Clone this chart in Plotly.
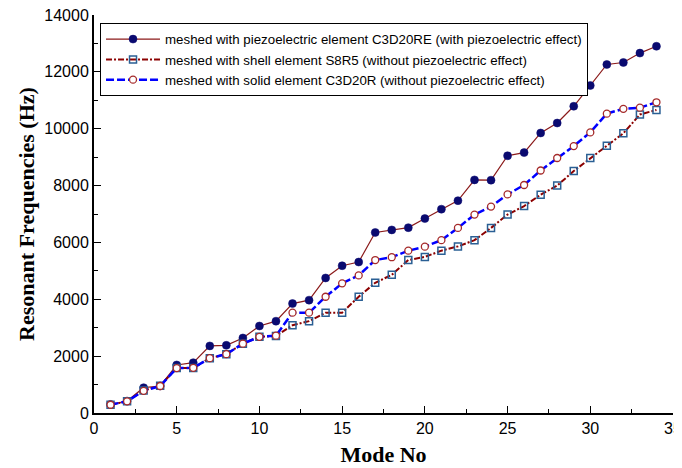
import plotly.graph_objects as go

modes = list(range(1, 35))

piezo_c3d20re = [300, 420, 890, 950, 1690, 1770, 2360, 2380, 2640, 3060, 3230, 3850,
                 3970, 4750, 5180, 5310, 6350, 6440, 6520, 6840, 7170, 7470, 8200, 8190,
                 9050, 9160, 9850, 10200, 10790, 11520, 12260, 12330, 12660, 12900]

shell_s8r5 = [290, 410, 790, 960, 1580, 1580, 1930, 2070, 2440, 2680, 2710, 3090,
              3230, 3530, 3530, 4090, 4580, 4860, 5380, 5490, 5710, 5860, 6080, 6510,
              6980, 7280, 7680, 8000, 8510, 8970, 9400, 9840, 10500, 10660]

solid_c3d20r = [290, 410, 780, 950, 1580, 1590, 1930, 2070, 2440, 2680, 2720, 3530,
                3530, 4090, 4560, 4840, 5380, 5480, 5710, 5850, 6080, 6510, 6980, 7260,
                7690, 8020, 8530, 8970, 9390, 9870, 10530, 10700, 10740, 10930]

x_ticks = [0, 5, 10, 15, 20, 25, 30, 35]

names = ["meshed with piezoelectric element C3D20RE (with piezoelectric effect)",
         "meshed with shell element S8R5 (without piezoelectric effect)",
         "meshed with solid element C3D20R (without piezoelectric effect)"]

fig = go.Figure()
fig.add_trace(go.Scatter(
    x=modes, y=piezo_c3d20re, name=names[0], mode="lines+markers",
    line=dict(color="#8B1A1A", width=1.2),
    marker=dict(symbol="circle", size=8, color="#0A0A70", line=dict(color="#0A0A70", width=0.5)),
    cliponaxis=False))
fig.add_trace(go.Scatter(
    x=modes, y=shell_s8r5, name=names[1], mode="lines+markers",
    line=dict(color="#8B0000", width=2, dash="6px,2px,2px,2px"),
    marker=dict(symbol="square-open", size=7, color="#2A5F94", line=dict(width=1.5)),
    cliponaxis=False))
fig.add_trace(go.Scatter(
    x=modes, y=solid_c3d20r, name=names[2], mode="lines+markers",
    line=dict(color="#0000FF", width=2.5, dash="8px,3px"),
    marker=dict(symbol="circle", size=7, color="white", line=dict(color="#A52A2A", width=1.3)),
    cliponaxis=False))

fig.update_layout(
    width=674, height=460,
    margin=dict(l=86, r=9, t=7, b=55),
    paper_bgcolor="white", plot_bgcolor="white",
    font=dict(family="Liberation Sans, Arial", size=16, color="black"),
    legend=dict(x=0.0104, y=0.98, xanchor="left", yanchor="top",
                bgcolor="white", bordercolor="black", borderwidth=1,
                font=dict(family="Liberation Sans, Arial", size=13.3, color="black"),
                tracegroupgap=0, itemwidth=54),
    xaxis=dict(range=[0, 35], tickmode="array", tickvals=x_ticks,
               ticktext=[str(v) for v in x_ticks],
               ticks="inside", ticklen=7, tickwidth=1.2, tickcolor="black",
               minor=dict(dtick=2.5, tick0=0, ticks="inside", ticklen=4, tickcolor="black"),
               showline=True, linecolor="black", linewidth=2, showgrid=False, zeroline=False,
               automargin=False, ticklabeloverflow="allow",
               title=dict(text="<b>Mode No</b>", font=dict(family="Liberation Serif, Times New Roman", size=22),
                          standoff=10)),
    yaxis=dict(range=[0, 14000], dtick=2000, tick0=0, tickformat="d",
               ticks="inside", ticklen=7, tickwidth=1.2, tickcolor="black",
               minor=dict(dtick=1000, tick0=0, ticks="inside", ticklen=4, tickcolor="black"),
               showline=True, linecolor="black", linewidth=2, showgrid=False, zeroline=False,
               automargin=False, ticklabeloverflow="allow",
               title=dict(text="<b>Resonant Frequencies (Hz)</b>", font=dict(family="Liberation Serif, Times New Roman", size=22),
                          standoff=4)),
)

fig.write_html("out.html")
